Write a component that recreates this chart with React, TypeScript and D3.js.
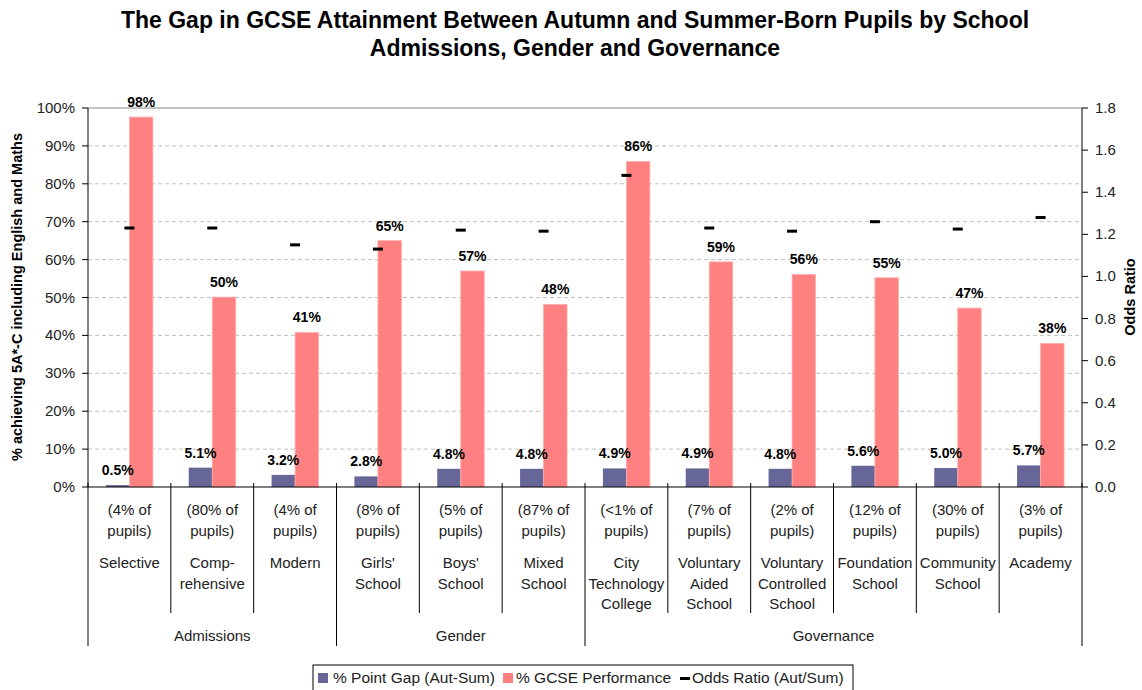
import { scaleBand, scaleLinear, range } from "d3";

const categoryLines = [
  ["Selective"],
  ["Comp-", "rehensive"],
  ["Modern"],
  ["Girls'", "School"],
  ["Boys'", "School"],
  ["Mixed", "School"],
  ["City", "Technology", "College"],
  ["Voluntary", "Aided", "School"],
  ["Voluntary", "Controlled", "School"],
  ["Foundation", "School"],
  ["Community", "School"],
  ["Academy"],
];
const pupilShare = ["4%", "80%", "4%", "8%", "5%", "87%", "<1%", "7%", "2%", "12%", "30%", "3%"];
const groupNames = ["Admissions", "Gender", "Governance"];
const groupSizes = [3, 3, 6];

// % point gap (aut - sum)
const gapValues = [0.5, 5.1, 3.2, 2.8, 4.8, 4.8, 4.9, 4.9, 4.8, 5.6, 5.0, 5.7];
// % GCSE performance
const gcseValues = [97.6, 50.1, 40.8, 65.0, 57.0, 48.2, 85.9, 59.4, 56.1, 55.2, 47.2, 37.9];
// odds ratio (aut / sum)
const oddsValues = [1.23, 1.23, 1.15, 1.13, 1.22, 1.215, 1.48, 1.23, 1.215, 1.26, 1.225, 1.28];

const leftTicks = range(0, 101, 10);
const rightTicks = range(0, 1.81, 0.2);

const W = 1142;
const H = 690;
const M = { left: 88, right: 1082, top: 108, bottom: 487 };
const FONT = "'Liberation Sans', Arial, sans-serif";
const BLUE = "#666699";
const PINK = "#FF8080";

export default function App() {
  const idx = categoryLines.map((_, i) => i);
  const x = scaleBand<number>().domain(idx).range([M.left, M.right]).padding(0);
  const y = scaleLinear().domain([0, 100]).range([M.bottom, M.top]);
  const yR = scaleLinear().domain([0, 1.8]).range([M.bottom, M.top]);
  const barW = 23.5;
  const sub = (i: number) =>
    scaleBand<string>()
      .domain(["gap", "gcse"])
      .range([x(i)! + x.bandwidth() / 2 - barW, x(i)! + x.bandwidth() / 2 + barW]);

  // group boundaries (indexes)
  const groupStarts: number[] = [];
  groupSizes.reduce((acc, s) => {
    groupStarts.push(acc);
    return acc + s;
  }, 0);

  return (
    <div style={{ position: "absolute", left: 0, top: 0 }}>
      <svg width={W} height={H} style={{ display: "block", background: "#fff" }} fontFamily={FONT}>
        {/* title */}
        <text x={575} y={28} textAnchor="middle" fontSize={23} fontWeight="bold" fill="#000">
          The Gap in GCSE Attainment Between Autumn and Summer-Born Pupils by School
        </text>
        <text x={575} y={56} textAnchor="middle" fontSize={23} fontWeight="bold" fill="#000">
          Admissions, Gender and Governance
        </text>

        {/* gridlines */}
        {leftTicks
          .filter((t) => t > 0 && t < 100)
          .map((t) => (
            <line key={t} x1={M.left} x2={M.right} y1={y(t)} y2={y(t)} stroke="#c0c0c0" strokeDasharray="4 3" />
          ))}
        <line x1={M.left} x2={M.right} y1={y(100)} y2={y(100)} stroke="#888" />

        {/* bars */}
        {idx.map((i) => {
          const s = sub(i);
          return (
            <g key={i}>
              <rect x={s("gap")} y={y(gapValues[i])} width={s.bandwidth()} height={M.bottom - y(gapValues[i])} fill={BLUE} />
              <rect x={s("gcse")} y={y(gcseValues[i])} width={s.bandwidth()} height={M.bottom - y(gcseValues[i])} fill={PINK} stroke="#ffb0b0" strokeWidth={0.8} />
              <text x={s("gap")! + s.bandwidth() / 2} y={y(gapValues[i]) - 10} textAnchor="middle" fontSize={14} fontWeight="bold" fill="#000">
                {gapValues[i].toFixed(1)}%
              </text>
              <text x={s("gcse")! + s.bandwidth() / 2} y={y(gcseValues[i]) - 10} textAnchor="middle" fontSize={14} fontWeight="bold" fill="#000">
                {Math.round(gcseValues[i])}%
              </text>
              <rect x={x(i)! + x.bandwidth() / 2 - 5} y={yR(oddsValues[i]) - 1.5} width={10} height={3} fill="#000" />
            </g>
          );
        })}

        {/* left axis */}
        <line x1={M.left} x2={M.left} y1={M.top} y2={M.bottom} stroke="#000" />
        {leftTicks.map((t) => (
          <g key={t}>
            <line x1={M.left - 6} x2={M.left} y1={y(t)} y2={y(t)} stroke="#000" />
            <text x={75} y={y(t) + 5} textAnchor="end" fontSize={15} fill="#222">
              {t}%
            </text>
          </g>
        ))}
        <text transform={`translate(22,297) rotate(-90)`} textAnchor="middle" fontSize={14.5} fontWeight="bold" fill="#000">
          % achieving 5A*-C including English and Maths
        </text>

        {/* right axis */}
        <line x1={M.right} x2={M.right} y1={M.top} y2={M.bottom} stroke="#000" />
        {rightTicks.map((t) => (
          <g key={t}>
            <line x1={M.right} x2={M.right + 6} y1={yR(t)} y2={yR(t)} stroke="#000" />
            <text x={1095} y={yR(t) + 5} textAnchor="start" fontSize={15} fill="#222">
              {t.toFixed(1)}
            </text>
          </g>
        ))}
        <text transform={`translate(1135,297) rotate(-90)`} textAnchor="middle" fontSize={14.5} fontWeight="bold" fill="#000">
          Odds Ratio
        </text>

        {/* x axis */}
        <line x1={M.left} x2={M.right} y1={M.bottom} y2={M.bottom} stroke="#000" />
        {range(categoryLines.length + 1).map((k) => {
          const xx = k < categoryLines.length ? x(k)! : M.right;
          const isGroup = k === categoryLines.length || groupStarts.includes(k);
          return <line key={k} x1={xx} x2={xx} y1={M.bottom - 4} y2={isGroup ? 646 : 613} stroke="#000" />;
        })}
        {idx.map((i) => {
          const cx = x(i)! + x.bandwidth() / 2;
          return (
            <g key={i} fontSize={15} fill="#222" textAnchor="middle">
              <text x={cx} y={515}>({pupilShare[i]} of</text>
              <text x={cx} y={536}>pupils)</text>
              {categoryLines[i].map((ln, j) => (
                <text key={j} x={cx} y={568 + j * 20.5}>
                  {ln}
                </text>
              ))}
            </g>
          );
        })}
        {groupNames.map((g, gi) => {
          const a = x(groupStarts[gi])!;
          const endIdx = groupStarts[gi] + groupSizes[gi];
          const b = endIdx < categoryLines.length ? x(endIdx)! : M.right;
          return (
            <text key={g} x={(a + b) / 2} y={641} textAnchor="middle" fontSize={15} fill="#222">
              {g}
            </text>
          );
        })}

        {/* legend */}
        <rect x={313} y={665} width={540} height={30} fill="#fff" stroke="#000" />
        <rect x={318} y={673} width={10} height={10} fill={BLUE} />
        <text x={333} y={683} fontSize={15.5} fill="#222">% Point Gap (Aut-Sum)</text>
        <rect x={503} y={673} width={10} height={10} fill={PINK} />
        <text x={516} y={683} fontSize={15.5} fill="#222">% GCSE Performance</text>
        <rect x={680} y={677} width={10} height={3} fill="#000" />
        <text x={692} y={683} fontSize={15.5} fill="#222">Odds Ratio (Aut/Sum)</text>
      </svg>
    </div>
  );
}
